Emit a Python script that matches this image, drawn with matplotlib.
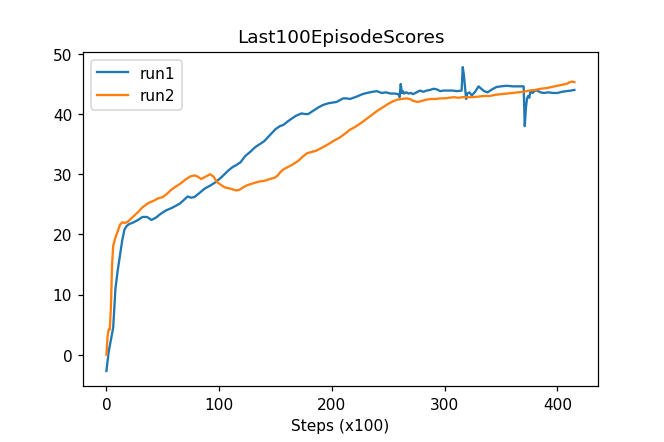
import numpy as np
import matplotlib
matplotlib.use("Agg")
import matplotlib.pyplot as plt

# run1 (blue)
run1_x = [0, 2, 4, 6, 8, 10, 12, 14, 16, 18, 20, 24, 28, 32, 36, 40, 44, 48, 53, 58,
          62, 65, 68, 72, 75, 78, 82, 87, 92, 97, 102, 108, 112, 115, 119, 123, 128, 132,
          136, 140, 145, 150, 154, 157, 161, 164, 168, 173, 176, 179, 183, 188, 192, 197,
          204, 210, 213, 216, 222, 227, 231, 236, 240, 244, 248, 252, 256, 259, 260, 261,
          262, 263, 264, 266, 268, 270, 272, 275, 278, 281, 284, 287, 290, 293, 296, 299,
          303, 307, 311, 315, 316, 317, 318, 319, 320, 322, 324, 327, 330, 333, 335, 338,
          342, 346, 350, 355, 360, 365, 370, 371, 372, 373, 374, 375, 376, 378, 380, 382,
          385, 388, 392, 396, 400, 404, 408, 412, 415]
run1_y = [-2.7, 0.5, 2.5, 4.5, 11.0, 14.0, 16.5, 19.0, 20.8, 21.4, 21.7, 22.0, 22.4, 22.9,
          22.9, 22.4, 22.8, 23.4, 24.0, 24.4, 24.8, 25.1, 25.6, 26.3, 26.1, 26.2, 26.8, 27.6,
          28.1, 28.7, 29.5, 30.6, 31.2, 31.5, 32.0, 33.0, 33.8, 34.5, 35.0, 35.5, 36.5, 37.5,
          38.0, 38.2, 38.8, 39.2, 39.7, 40.1, 40.0, 40.0, 40.5, 41.1, 41.5, 41.8, 42.0, 42.6,
          42.6, 42.5, 42.9, 43.3, 43.5, 43.7, 43.8, 43.5, 43.6, 43.4, 43.4, 43.3, 42.8, 45.0,
          43.5, 43.8, 43.4, 43.6, 43.4, 43.5, 43.3, 43.6, 43.9, 43.7, 43.9, 44.0, 44.2, 44.1,
          43.8, 43.9, 43.9, 43.9, 43.8, 43.9, 47.8, 46.5, 44.5, 42.5, 43.4, 43.6, 43.1, 43.7,
          44.6, 44.1, 43.8, 43.6, 44.1, 44.5, 44.6, 44.7, 44.6, 44.6, 44.6, 38.0, 41.0, 42.6,
          43.0, 42.7, 43.8, 43.5, 43.9, 43.9, 43.6, 43.5, 43.6, 43.5, 43.5, 43.7, 43.8, 43.9,
          44.0]

# run2 (orange)
run2_x = [0, 1, 2, 3, 4, 5, 6, 8, 10, 12, 14, 16, 18, 20, 24, 28, 32, 37, 42, 46, 50, 54,
          58, 62, 66, 70, 74, 78, 81, 84, 88, 92, 95, 98, 101, 105, 110, 115, 118, 121, 124,
          127, 132, 136, 140, 145, 149, 152, 154, 157, 160, 165, 170, 174, 178, 182, 186,
          190, 196, 202, 207, 212, 216, 220, 225, 230, 235, 240, 245, 250, 254, 258, 262,
          266, 269, 272, 276, 280, 284, 288, 292, 296, 300, 304, 308, 312, 316, 320, 325,
          330, 335, 340, 345, 350, 355, 360, 365, 370, 375, 380, 385, 390, 395, 400, 405,
          408, 411, 413, 415]
run2_y = [0.0, 3.0, 4.2, 4.2, 8.0, 15.0, 18.1, 19.5, 20.5, 21.6, 22.0, 21.9, 22.0, 22.3,
          23.0, 23.7, 24.5, 25.2, 25.6, 26.0, 26.2, 26.8, 27.5, 28.0, 28.5, 29.1, 29.6, 29.8,
          29.6, 29.2, 29.6, 30.0, 29.6, 28.7, 28.3, 27.8, 27.6, 27.3, 27.4, 27.8, 28.1, 28.3,
          28.6, 28.8, 28.9, 29.2, 29.4, 29.8, 30.3, 30.8, 31.1, 31.6, 32.2, 32.9, 33.5, 33.7,
          33.9, 34.3, 34.9, 35.6, 36.1, 36.8, 37.4, 37.8, 38.4, 39.1, 39.8, 40.5, 41.1, 41.7,
          42.1, 42.4, 42.5, 42.6, 42.5, 42.2, 42.0, 42.2, 42.4, 42.5, 42.5, 42.6, 42.6, 42.7,
          42.8, 42.7, 42.8, 42.8, 42.8, 42.9, 43.0, 43.0, 43.2, 43.3, 43.4, 43.5, 43.6, 43.7,
          43.9, 44.0, 44.2, 44.3, 44.5, 44.7, 44.9, 45.0, 45.3, 45.4, 45.3]

fig = plt.figure(figsize=(6, 4), dpi=110.7)
ax = fig.add_subplot(111)
fig.subplots_adjust(left=0.125, right=0.9, bottom=0.126, top=0.881)

ax.plot(run1_x, run1_y, label='run1')
ax.plot(run2_x, run2_y, label='run2')

ax.set_title('Last100EpisodeScores')
ax.set_xlabel('Steps (x100)')
ax.legend(loc='upper left')

fig.savefig('out.png', dpi=110.7)
